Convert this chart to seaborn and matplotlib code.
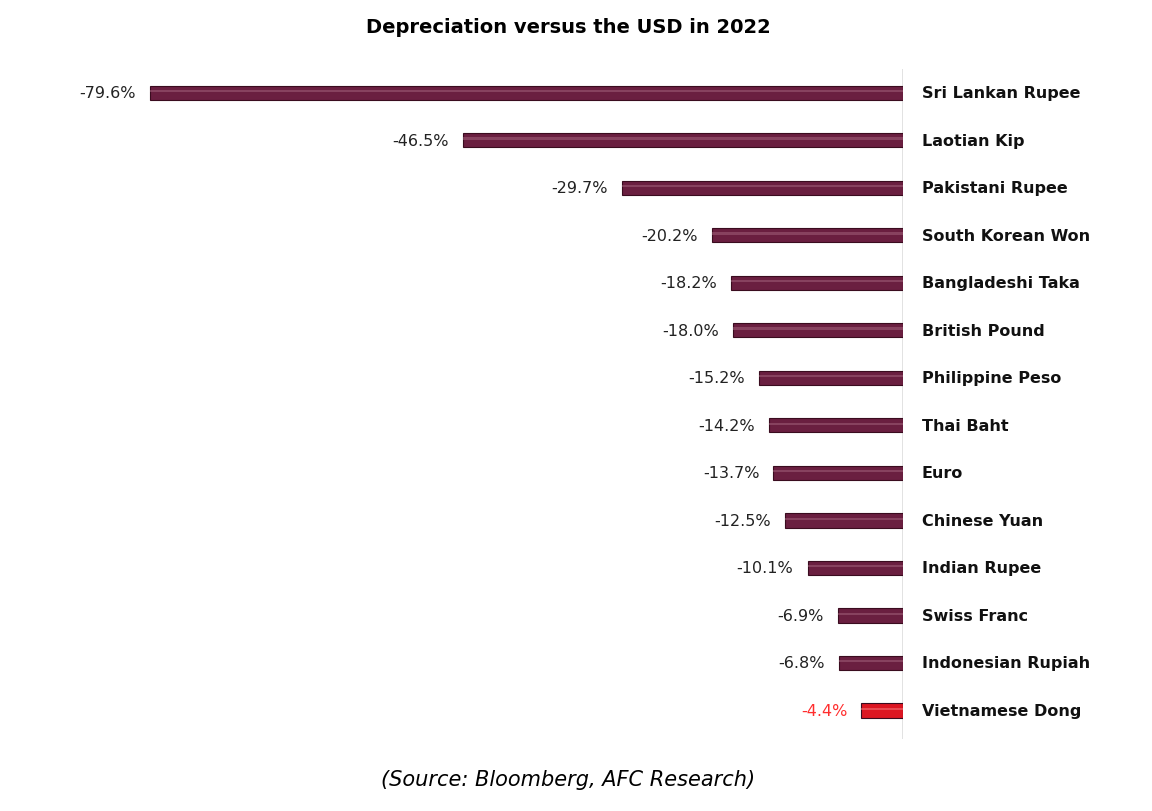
import pandas as pd
import matplotlib.pyplot as plt
import seaborn as sns

# datos
monedas = ['Sri Lankan Rupee', 'Laotian Kip', 'Pakistani Rupee', 'South Korean Won',
           'Bangladeshi Taka', 'British Pound', 'Philippine Peso', 'Thai Baht', 'Euro',
           'Chinese Yuan', 'Indian Rupee', 'Swiss Franc', 'Indonesian Rupiah', 'Vietnamese Dong']
depreciacion = [-79.6, -46.5, -29.7, -20.2, -18.2, -18.0, -15.2, -14.2, -13.7,
                -12.5, -10.1, -6.9, -6.8, -4.4]
destacado = [False] * 13 + [True]

df = pd.DataFrame({'moneda': monedas, 'valor': depreciacion, 'destacado': destacado})

sns.set_theme(style='white')
plt.rcParams['font.family'] = ['DejaVu Sans']

fig = plt.figure(figsize=(11.52, 8.12), dpi=100)
ax = fig.add_axes([0.05, 0.0887, 0.7839 - 0.05, 0.9138 - 0.0887])

sns.barplot(data=df, x='valor', y='moneda', hue='destacado', orient='h',
            palette={False: '#6A1F40', True: '#DC1622'}, width=0.3, saturation=1,
            dodge=False, legend=False, ax=ax, edgecolor='#3A0C1F', linewidth=0.8)

# brillo sobre las barras
for i, v in enumerate(depreciacion):
    col = '#F2777B' if destacado[i] else '#A0607A'
    ax.barh(i - 0.035, v, height=0.05, color=col, alpha=0.55, linewidth=0)

ax.set_xlim(-89.4, 0)
ax.set_ylim(13.6, -0.5)
ax.axvline(0, color='#dddddd', lw=1.2, zorder=0)

for i, v in enumerate(depreciacion):
    c = '#FF2E2E' if destacado[i] else '#222222'
    ax.text(v - 1.5, i, f'{v:.1f}%', ha='right', va='center', fontsize=11.5, color=c)
    ax.text(2.0, i, monedas[i], ha='left', va='center', fontsize=11.5,
            fontweight='semibold', color='#111111', clip_on=False)

ax.set_xticks([])
ax.set_yticks([])
ax.set_xlabel('')
ax.set_ylabel('')
for s in ax.spines.values():
    s.set_visible(False)

fig.text(0.493, 0.966, 'Depreciation versus the USD in 2022', ha='center', va='center',
         fontsize=14, fontweight='bold', color='black')
fig.text(0.493, 0.04, '(Source: Bloomberg, AFC Research)', ha='center', va='center',
         fontsize=15, style='italic', color='black')

fig.savefig('out.png', dpi=100)
